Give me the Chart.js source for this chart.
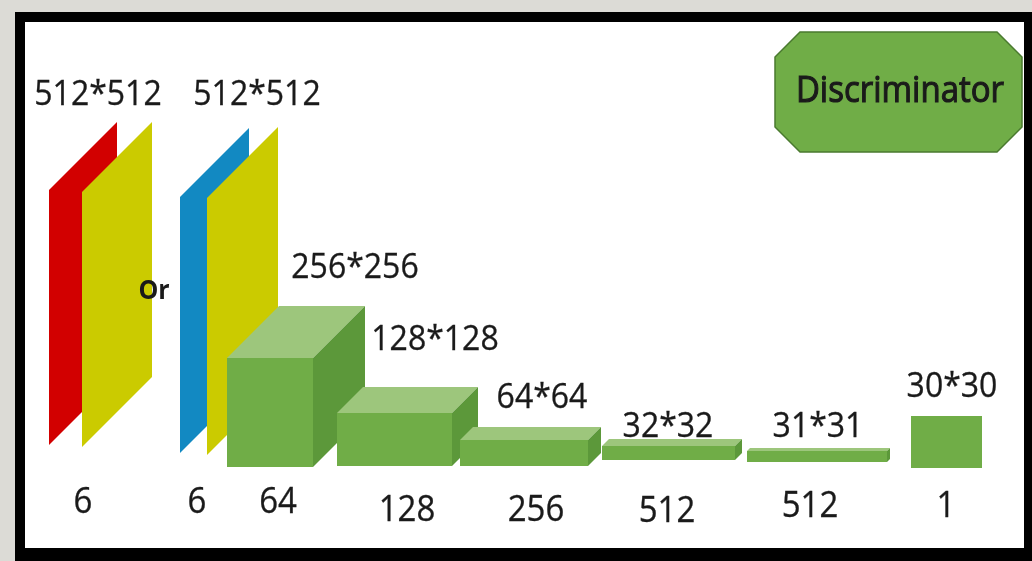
<!DOCTYPE html>
<html>
<head>
<meta charset="utf-8">
<script src="https://cdn.jsdelivr.net/npm/chart.js@4.4.1/dist/chart.umd.min.js"></script>
<style>
  html, body { margin: 0; padding: 0; background: #dcdbd6; }
  #diagram { display: block; }
</style>
</head>
<body>
<canvas id="diagram" width="1032" height="561"></canvas>
<script>
'use strict';

// discriminator layers: feature map size (top) and channel count (bottom)
const layerSizes = ['512*512', '512*512', '256*256', '128*128', '64*64', '32*32', '31*31', '30*30'];
const layerChannels = ['6', '6', '64', '128', '256', '512', '512', '1'];
const titleText = 'Discriminator';
const orText = 'Or';

// --- layout (axis units, y grows downwards) ---

// input planes: left edge, slant width, top and bottom of left edge
const planeX = [49, 82, 180, 207];
const planeW = [68, 70, 69, 71];
const planeTop = [190, 192, 197, 198];
const planeBottom = [445, 447, 453, 455];
const planeColors = ['#d20000', '#cbcb00', '#1289c2', '#cbcb00'];

// conv blocks: front face + depth
const blockX = [227, 337, 460, 602, 747, 911];
const blockW = [86, 115, 128, 133, 140, 71];
const blockTop = [358, 413, 440, 446, 451, 416];
const blockBottom = [467, 466, 466, 460, 462, 468];
const blockDepth = [52, 26, 13, 7, 3, 0];

// label anchors (center x, baseline y)
const sizeLabelX = [98, 257, 355, 435, 542, 668, 818, 952];
const sizeLabelY = [105, 105, 278, 350, 408, 437, 437, 397];
const chanLabelX = [83, 197, 278, 407, 536, 667, 810, 946];
const chanLabelY = [513, 513, 513, 521, 521, 522, 517, 517];

const GREEN_FRONT = '#70ad47';
const GREEN_TOP = '#9dc67c';
const GREEN_SIDE = '#5c983a';
const FONT = '"Open Sans", "Noto Sans", sans-serif';

const datasets = [];

function addShape(points, fill, stroke) {
  datasets.push({
    data: points.map(p => ({x: p[0], y: p[1]})),
    shapeFill: fill,
    shapeStroke: stroke || null,
    showLine: false,
    pointRadius: 0
  });
}

// planes (parallelograms, 45 degree slant)
planeX.forEach((x, i) => {
  const w = planeW[i];
  addShape([
    [x, planeTop[i]], [x + w, planeTop[i] - w],
    [x + w, planeBottom[i] - w], [x, planeBottom[i]]
  ], planeColors[i]);
});

// boxes
blockX.forEach((x, i) => {
  const w = blockW[i], t = blockTop[i], b = blockBottom[i], d = blockDepth[i];
  if (d > 0) {
    addShape([[x, t], [x + d, t - d], [x + w + d, t - d], [x + w, t]], GREEN_TOP);
    addShape([[x + w, t], [x + w + d, t - d], [x + w + d, b - d], [x + w, b]], GREEN_SIDE);
  }
  addShape([[x, t], [x + w, t], [x + w, b], [x, b]], GREEN_FRONT);
});

// title octagon
const octL = 775, octR = 1022, octT = 32, octB = 152, cut = 25;
addShape([
  [octL + cut, octT], [octR - cut, octT], [octR, octT + cut], [octR, octB - cut],
  [octR - cut, octB], [octL + cut, octB], [octL, octB - cut], [octL, octT + cut]
], GREEN_FRONT, '#4a7a2f');

// text anchors
datasets.push({
  data: sizeLabelX.map((x, i) => ({x, y: sizeLabelY[i]})),
  texts: layerSizes, font: '32px ' + FONT, stretch: 1.1, outline: 0.3,
  showLine: false, pointRadius: 0
});
datasets.push({
  data: chanLabelX.map((x, i) => ({x, y: chanLabelY[i]})),
  texts: layerChannels, font: '33px ' + FONT, stretch: 1.1, outline: 0.3,
  showLine: false, pointRadius: 0
});
datasets.push({
  data: [{x: 154, y: 299}],
  texts: [orText], font: 'bold 25px ' + FONT, stretch: 1.05,
  showLine: false, pointRadius: 0
});
datasets.push({
  data: [{x: 900, y: 102}],
  texts: [titleText], font: '33px ' + FONT, stretch: 1.12, outline: 1,
  showLine: false, pointRadius: 0
});

const diagramPlugin = {
  id: 'diagram',
  beforeDraw(chart) {
    const {ctx, scales: {x, y}} = chart;
    ctx.save();
    ctx.fillStyle = '#dcdbd6';
    ctx.fillRect(0, 0, chart.width, chart.height);
    ctx.fillStyle = '#000';
    ctx.fillRect(x.getPixelForValue(15), y.getPixelForValue(12),
      x.getPixelForValue(1032) - x.getPixelForValue(15), y.getPixelForValue(561) - y.getPixelForValue(12));
    ctx.fillStyle = '#ffffff';
    ctx.fillRect(x.getPixelForValue(25), y.getPixelForValue(22),
      x.getPixelForValue(1024) - x.getPixelForValue(25), y.getPixelForValue(548) - y.getPixelForValue(22));
    ctx.restore();
  },
  afterDatasetsDraw(chart) {
    const ctx = chart.ctx;
    chart.data.datasets.forEach((ds, i) => {
      const pts = chart.getDatasetMeta(i).data;
      ctx.save();
      if (ds.shapeFill) {
        ctx.beginPath();
        pts.forEach((p, j) => j ? ctx.lineTo(p.x, p.y) : ctx.moveTo(p.x, p.y));
        ctx.closePath();
        ctx.fillStyle = ds.shapeFill;
        ctx.fill();
        if (ds.shapeStroke) {
          ctx.strokeStyle = ds.shapeStroke;
          ctx.lineWidth = 1.5;
          ctx.stroke();
        }
      } else if (ds.texts) {
        ctx.font = ds.font;
        ctx.textAlign = 'center';
        ctx.textBaseline = 'alphabetic';
        ctx.fillStyle = '#1a1a1a';
        ctx.strokeStyle = '#1a1a1a';
        pts.forEach((p, j) => {
          ctx.save();
          ctx.translate(p.x, p.y);
          ctx.scale(1, ds.stretch);
          if (ds.outline) {
            ctx.lineWidth = ds.outline;
            ctx.strokeText(ds.texts[j], 0, 0);
          }
          ctx.fillText(ds.texts[j], 0, 0);
          ctx.restore();
        });
      }
      ctx.restore();
    });
  }
};

new Chart(document.getElementById('diagram').getContext('2d'), {
  type: 'scatter',
  data: { datasets },
  options: {
    responsive: false,
    animation: false,
    layout: { padding: 0 },
    plugins: { legend: { display: false }, tooltip: { enabled: false } },
    scales: {
      x: { type: 'linear', min: 0, max: 1032, display: false },
      y: { type: 'linear', min: 0, max: 561, reverse: true, display: false }
    }
  },
  plugins: [diagramPlugin]
});
</script>
</body>
</html>
